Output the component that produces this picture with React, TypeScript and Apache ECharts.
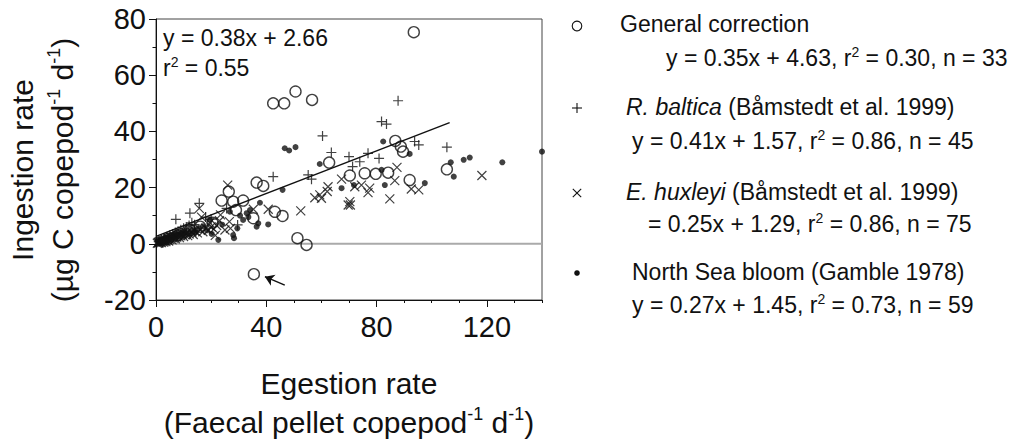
import React, { useEffect, useRef } from 'react';
import * as echarts from 'echarts';

// ---------- data ----------
const X_TICKS = [0, 40, 80, 120];
const Y_TICKS = [-20, 0, 20, 40, 60, 80];

// General correction (open circles), n = 33
const GENERAL: number[][] = [
  [42.5, 50.0], [46.5, 50.0], [50.6, 54.2], [56.6, 51.2], [62.8, 28.9], [36.5, 21.8],
  [38.9, 20.6], [26.4, 18.6], [23.8, 15.4], [28.0, 15.0], [31.6, 15.4], [29.0, 12.0],
  [35.3, 9.1], [43.1, 11.4], [45.9, 9.9], [16.0, 6.1], [12.3, 4.9], [51.3, 2.0],
  [54.6, -0.4], [35.5, -10.8], [93.5, 75.3], [86.8, 36.6], [88.8, 34.6], [89.6, 32.8],
  [70.3, 24.3], [75.7, 25.1], [79.7, 24.9], [84.2, 25.3], [92.0, 22.7], [105.5, 26.5],
  [4.5, 1.8], [8.0, 3.0], [20.5, 7.5],
];

// R. baltica (plus), n = 45
const BALTICA: number[][] = [
  [60.4, 38.4], [63.6, 32.5], [70.0, 31.0], [42.5, 23.9], [55.2, 24.5], [56.4, 23.0],
  [15.7, 14.4], [12.3, 10.9], [7.2, 8.7], [29.6, 6.7], [25.6, 12.6], [87.8, 50.9],
  [81.8, 43.5], [83.6, 42.6], [93.8, 36.4], [95.3, 35.2], [105.5, 34.4], [76.9, 32.2],
  [73.9, 29.2], [80.9, 30.4], [71.3, 27.5],
  [1, 0.8], [1.5, 1.2], [2, 1.5], [2.5, 0.5], [3, 2], [3.5, 1.4], [4, 2.5], [4.5, 1.8],
  [5, 3], [5.5, 2.2], [6, 3.5], [6.5, 2.8], [7, 4], [7.5, 3.2], [8, 4.5], [9, 5],
  [9.5, 3.8], [10, 5.5], [11, 6], [12, 6.5], [13, 7.5], [14, 6.8], [18, 9.5], [20, 8.8],
];

// E. huxleyi (cross), n = 75
const HUXLEYI: number[][] = [
  [26.0, 20.9], [15.7, 12.6], [23.4, 10.3], [26.6, 7.9], [25.0, 4.9], [35.3, 12.3],
  [40.7, 12.3], [52.5, 11.7], [57.6, 16.4], [59.4, 17.4], [60.0, 16.2], [62.4, 20.3],
  [62.1, 18.6], [67.3, 23.0], [69.7, 13.8], [87.4, 27.2], [86.6, 22.5], [72.1, 20.3],
  [74.5, 20.9], [77.5, 19.8], [76.9, 18.2], [70.3, 15.0], [70.5, 13.8], [84.8, 16.0],
  [92.6, 19.5], [95.3, 19.2], [118.2, 24.3],
  [0.5, 0.2], [0.8, 0.5], [1, 0.3], [1.2, 0.8], [1.5, 0.5], [1.8, 1], [2, 0.4], [2.2, 0.9],
  [2.5, 1.2], [2.8, 0.6], [3, 1], [3.3, 1.5], [3.6, 0.8], [4, 1.3], [4.3, 1.8], [4.6, 1],
  [5, 1.6], [5.4, 2.2], [5.8, 1.4], [6.2, 2], [6.6, 2.6], [7, 1.8], [7.5, 2.4], [8, 3],
  [8.5, 2.2], [9, 2.8], [9.5, 3.4], [10, 2.6], [10.5, 3.2], [11, 3.8], [11.5, 2.9], [12, 3.5],
  [13, 4.2], [13.5, 3.3], [14, 4.6], [15, 3.9], [16, 5], [17, 4.3], [18, 5.6], [19, 4.8],
  [20, 6], [21, 5.2], [22, 6.5], [16.5, 9.5], [19.5, 7.5], [21.5, 3], [23, 8.2], [27, 5.5],
];

// North Sea bloom (dots), n = 59
const NORTHSEA: number[][] = [
  [46.7, 34.0], [48.3, 33.2], [50.6, 34.4], [59.4, 28.4], [45.9, 19.2], [37.7, 14.6],
  [40.7, 6.9], [36.5, 6.1], [37.1, 7.3], [34.1, 12.0], [32.9, 10.9], [31.6, 8.5],
  [28.0, 3.1], [28.3, 2.0], [22.6, 1.4], [20.2, 3.5], [67.3, 19.8], [26.8, 11.4],
  [19.6, 8.5], [82.4, 36.4], [92.0, 32.0], [106.9, 29.0], [108.0, 23.9], [111.6, 29.9],
  [113.8, 30.7], [125.6, 29.0], [140.0, 32.8], [83.0, 20.9], [97.5, 21.6], [71.8, 20.9],
  [81.8, 26.3],
  [0.6, 0.4], [1, 1], [1.4, 0.6], [1.9, 1.3], [2.4, 0.9], [2.9, 1.7], [3.4, 1.1], [3.9, 2],
  [4.4, 1.5], [4.9, 2.4], [5.6, 1.9], [6.3, 2.8], [7, 2.2], [7.8, 3.3], [8.6, 2.6], [9.4, 3.8],
  [10.3, 3], [11.2, 4.3], [12.2, 3.6], [13.2, 5], [14.3, 4], [15.5, 5.6], [17, 6.2], [18.5, 4.8],
  [24, 6.8], [30.5, 10], [33.5, 9.5], [29.5, 5.5],
];

// overall regression y = 0.38x + 2.66
const FIT_SLOPE = 0.38;
const FIT_INTERCEPT = 2.66;
const FIT_X = [0, 106.5];

const ZERO_LINE: number[][] = [[0, 0], [140, 0]];
const ARROW: number[][] = [[46.7, -14.7], [39.5, -11.7]];

const FIT_TEXT = ['y = 0.38x + 2.66', 'r{sup|2} = 0.55'];

const LEGEND_TITLES = [
  'General correction',
  '{it|R. baltica} (Båmstedt et al. 1999)',
  '{it|E. huxleyi} (Båmstedt et al. 1999)',
  'North Sea bloom (Gamble 1978)',
];
const LEGEND_EQS = [
  'y = 0.35x + 4.63, r{sup|2} = 0.30, n = 33',
  'y = 0.41x + 1.57, r{sup|2} = 0.86, n = 45',
  '= 0.25x + 1.29, r{sup|2} = 0.86, n = 75',
  'y = 0.27x + 1.45, r{sup|2} = 0.73, n = 59',
];

const Y_TITLE = ['Ingestion rate', '(µg C copepod{sup|-1} d{sup|-1})'];
const X_TITLE = ['Egestion rate', '(Faecal pellet copepod{sup|-1} d{sup|-1})'];

// ---------- layout / style ----------
const FONT = "'Liberation Sans', Arial, Helvetica, sans-serif";
const INK = '#111';

function richFor(size: number) {
  const sup = Math.round(size * 0.6);
  return {
    sup: { fontSize: sup, fontFamily: FONT, fill: INK, verticalAlign: 'top', lineHeight: sup + 2 },
    it: { fontSize: size, fontFamily: FONT, fill: INK, fontStyle: 'italic', lineHeight: Math.round(size * 1.15) },
  };
}

function txt(text: string, x: number, y: number, size: number, align = 'left', rotation = 0) {
  return {
    type: 'text',
    x,
    y,
    rotation,
    silent: true,
    style: {
      text,
      fontSize: size,
      fontFamily: FONT,
      fill: INK,
      lineHeight: Math.round(size * 1.15),
      textAlign: align,
      align,
      textVerticalAlign: 'middle',
      verticalAlign: 'middle',
      rich: richFor(size),
    },
  };
}

function legendMarker(kind: number, cx: number, cy: number): any[] {
  const st = { stroke: INK, lineWidth: 1.1, fill: 'none' };
  if (kind === 0) return [{ type: 'circle', silent: true, shape: { cx, cy, r: 4.8 }, style: st }];
  if (kind === 1)
    return [
      { type: 'line', silent: true, shape: { x1: cx - 5, y1: cy, x2: cx + 5, y2: cy }, style: st },
      { type: 'line', silent: true, shape: { x1: cx, y1: cy - 5, x2: cx, y2: cy + 5 }, style: st },
    ];
  if (kind === 2)
    return [
      { type: 'line', silent: true, shape: { x1: cx - 4.2, y1: cy - 4.2, x2: cx + 4.2, y2: cy + 4.2 }, style: st },
      { type: 'line', silent: true, shape: { x1: cx + 4.2, y1: cy - 4.2, x2: cx - 4.2, y2: cy + 4.2 }, style: st },
    ];
  return [{ type: 'circle', silent: true, shape: { cx, cy, r: 2.8 }, style: { fill: INK } }];
}

export default function App() {
  const ref = useRef<HTMLDivElement>(null);

  useEffect(() => {
    if (!ref.current) return;
    const chart = echarts.init(ref.current, undefined, { renderer: 'svg' });

    const titleX = [620, 626, 626, 632];
    const eqX = [666, 632, 648, 632];
    const titleY = [24, 107, 192, 272];
    const eqY = [58, 141, 224, 305];
    const markerX = 577;
    const markerY = [26, 108, 193, 273];

    const graphic: any[] = [];
    graphic.push(txt(FIT_TEXT[0], 163, 38, 23));
    graphic.push(txt(FIT_TEXT[1], 163, 68, 23));
    for (let i = 0; i < 4; i++) {
      graphic.push(...legendMarker(i, markerX, markerY[i]));
      graphic.push(txt(LEGEND_TITLES[i], titleX[i], titleY[i], 23));
      graphic.push(txt(LEGEND_EQS[i], eqX[i], eqY[i], 23));
    }
    graphic.push(txt(Y_TITLE[0], 22, 170, 30, 'center', Math.PI / 2));
    graphic.push(txt(Y_TITLE[1], 62, 170, 30, 'center', Math.PI / 2));
    graphic.push(txt(X_TITLE[0], 349, 383, 30, 'center'));
    graphic.push(txt(X_TITLE[1], 349, 422, 30, 'center'));

    const option: any = {
      animation: false,
      textStyle: { fontFamily: FONT },
      grid: {
        left: 156, top: 19, width: 386, height: 281,
        show: true, borderColor: '#444', borderWidth: 1, backgroundColor: 'transparent',
      },
      xAxis: [
        {
          type: 'value', min: 0, max: 140, interval: 10, position: 'bottom',
          axisLine: { show: true, onZero: false, lineStyle: { color: INK, width: 1 } },
          axisTick: { show: true, length: 3, lineStyle: { color: INK } },
          axisLabel: { show: false },
          splitLine: { show: false },
        },
        {
          type: 'value', min: 0, max: 140, interval: 40, position: 'bottom',
          axisLine: { show: false, onZero: false },
          axisTick: { show: true, length: 7, lineStyle: { color: INK } },
          axisLabel: {
            fontSize: 29, margin: 12, color: INK, fontFamily: FONT, showMaxLabel: false,
            formatter: (v: number) => (X_TICKS.includes(v) ? String(v) : ''),
          },
          splitLine: { show: false },
        },
      ],
      yAxis: {
        type: 'value', min: -20, max: 80, interval: 20,
        axisLine: { show: true, onZero: false, lineStyle: { color: INK, width: 1 } },
        axisTick: { show: true, length: 7, lineStyle: { color: INK } },
        minorTick: { show: true, splitNumber: 2, length: 3.5, lineStyle: { color: INK } },
        axisLabel: {
          fontSize: 29, margin: 10, color: INK, fontFamily: FONT,
          formatter: (v: number) => (Y_TICKS.includes(v) ? String(v) : ''),
        },
        splitLine: { show: false },
      },
      series: [
        {
          type: 'line', data: ZERO_LINE, symbol: 'none', silent: true, z: 1,
          lineStyle: { color: '#aaa', width: 2 },
        },
        {
          type: 'line', data: FIT_X.map((x) => [x, FIT_SLOPE * x + FIT_INTERCEPT]),
          symbol: 'none', silent: true, z: 3,
          lineStyle: { color: INK, width: 1.4 },
          markLine: {
            silent: true, symbol: ['none', 'arrow'], symbolSize: 9,
            label: { show: false },
            lineStyle: { type: 'solid', color: INK, width: 1.5 },
            data: [[{ coord: ARROW[0] }, { coord: ARROW[1] }]],
          },
        },
        {
          type: 'scatter', name: 'General correction', data: GENERAL, symbol: 'circle', symbolSize: 11,
          itemStyle: { color: 'rgba(0,0,0,0)', borderColor: INK, borderWidth: 1.4 }, z: 5,
        },
        {
          type: 'scatter', name: 'R. baltica', data: BALTICA,
          symbol: 'path://M5,0 L5,10 M0,5 L10,5', symbolSize: 10,
          itemStyle: { color: 'none', borderColor: INK, borderWidth: 1.2 }, z: 5,
        },
        {
          type: 'scatter', name: 'E. huxleyi', data: HUXLEYI,
          symbol: 'path://M0,0 L10,10 M10,0 L0,10', symbolSize: 9,
          itemStyle: { color: 'none', borderColor: INK, borderWidth: 1.2 }, z: 5,
        },
        {
          type: 'scatter', name: 'North Sea bloom', data: NORTHSEA, symbol: 'circle', symbolSize: 6,
          itemStyle: { color: INK }, z: 5, clip: false,
        },
      ],
      graphic,
    };

    chart.setOption(option);
    return () => chart.dispose();
  }, []);

  return (
    <div
      ref={ref}
      style={{ position: 'absolute', left: 0, top: 0, width: 1014, height: 447, background: '#fff' }}
    />
  );
}
